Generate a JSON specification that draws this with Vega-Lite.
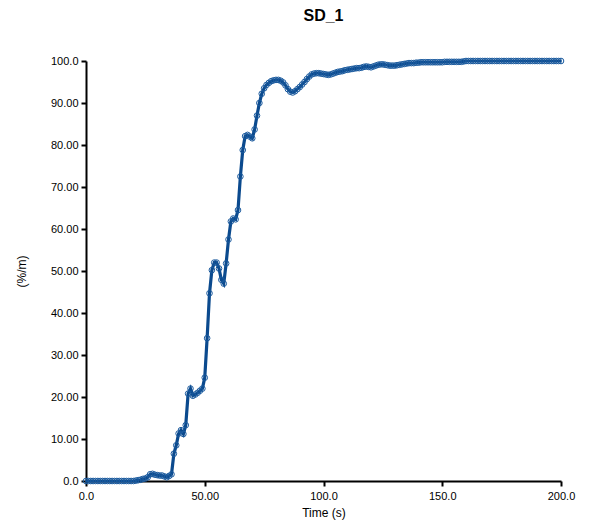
{
  "$schema": "https://vega.github.io/schema/vega-lite/v6.json",
  "autosize": {"type": "none"},
  "width": 475,
  "height": 420,
  "padding": {"left": 86, "top": 61, "right": 39, "bottom": 46},
  "background": "white",
  "title": {"text": "SD_1", "fontSize": 16, "fontWeight": "bold", "font": "Liberation Sans", "color": "black", "offset": 31, "anchor": "middle"},
  "config": {
    "view": {"stroke": null},
    "axis": {"grid": false, "domainColor": "black", "domainWidth": 2, "tickColor": "black", "tickWidth": 2, "tickSize": 5, "labelFlush": false,
      "labelFont": "Liberation Sans", "labelFontSize": 11, "labelColor": "black", "titleFont": "Liberation Sans", "titleFontSize": 12, "titleFontWeight": "normal", "titleColor": "black"}
  },
  "data": {"values": [
    {"t":0,"v":0},{"t":1,"v":0},{"t":2,"v":0},{"t":3,"v":0},{"t":4,"v":0},{"t":5,"v":0},{"t":6,"v":0},{"t":7,"v":0},{"t":8,"v":0},{"t":9,"v":0},
    {"t":10,"v":0},{"t":11,"v":0},{"t":12,"v":0},{"t":13,"v":0},{"t":14,"v":0},{"t":15,"v":0},{"t":16,"v":0},{"t":17,"v":0},{"t":18,"v":0},{"t":19,"v":0},
    {"t":20,"v":0},{"t":21,"v":0.1},{"t":22,"v":0.2},{"t":23,"v":0.3},{"t":24,"v":0.5},{"t":25,"v":0.6},{"t":26,"v":0.9},{"t":27,"v":1.6},{"t":28,"v":1.7},{"t":29,"v":1.5},
    {"t":30,"v":1.4},{"t":31,"v":1.3},{"t":32,"v":1.3},{"t":33,"v":1.1},{"t":34,"v":0.9},{"t":35,"v":1.2},{"t":36,"v":1.6},{"t":37,"v":6.5},{"t":38,"v":8.5},{"t":39,"v":11.3},
    {"t":40,"v":12.1},{"t":41,"v":11.2},{"t":42,"v":13.3},{"t":43,"v":20.8},{"t":44,"v":22.0},{"t":45,"v":20.3},{"t":46,"v":20.6},{"t":47,"v":21.0},{"t":48,"v":21.5},{"t":49,"v":22.0},
    {"t":50,"v":24.6},{"t":51,"v":34.0},{"t":52,"v":44.7},{"t":53,"v":50.2},{"t":54,"v":52.0},{"t":55,"v":52.0},{"t":56,"v":50.6},{"t":57,"v":47.9},{"t":58,"v":47.0},{"t":59,"v":51.8},
    {"t":60,"v":57.5},{"t":61,"v":61.8},{"t":62,"v":62.5},{"t":63,"v":62.3},{"t":64,"v":64.5},{"t":65,"v":72.5},{"t":66,"v":78.8},{"t":67,"v":82.1},{"t":68,"v":82.4},{"t":69,"v":82.0},
    {"t":70,"v":81.6},{"t":71,"v":83.7},{"t":72,"v":87.0},{"t":73,"v":90.0},{"t":74,"v":92.2},{"t":75,"v":93.5},{"t":76,"v":94.3},{"t":77,"v":94.8},{"t":78,"v":95.2},{"t":79,"v":95.4},
    {"t":80,"v":95.5},{"t":81,"v":95.5},{"t":82,"v":95.3},{"t":83,"v":94.9},{"t":84,"v":94.2},{"t":85,"v":93.3},{"t":86,"v":92.7},{"t":87,"v":92.5},{"t":88,"v":92.8},{"t":89,"v":93.3},
    {"t":90,"v":93.8},{"t":91,"v":94.4},{"t":92,"v":95.0},{"t":93,"v":95.7},{"t":94,"v":96.3},{"t":95,"v":96.8},{"t":96,"v":97.0},{"t":97,"v":97.1},{"t":98,"v":97.1},{"t":99,"v":97.0},
    {"t":100,"v":96.9},{"t":101,"v":96.8},{"t":102,"v":96.7},{"t":103,"v":96.8},{"t":104,"v":97.0},{"t":105,"v":97.2},{"t":106,"v":97.4},{"t":107,"v":97.5},{"t":108,"v":97.6},{"t":109,"v":97.8},
    {"t":110,"v":97.9},{"t":111,"v":98.0},{"t":112,"v":98.1},{"t":113,"v":98.2},{"t":114,"v":98.3},{"t":115,"v":98.3},{"t":116,"v":98.4},{"t":117,"v":98.6},{"t":118,"v":98.7},{"t":119,"v":98.6},
    {"t":120,"v":98.5},{"t":121,"v":98.7},{"t":122,"v":98.9},{"t":123,"v":99.1},{"t":124,"v":99.2},{"t":125,"v":99.2},{"t":126,"v":99.1},{"t":127,"v":99.0},{"t":128,"v":98.9},{"t":129,"v":98.9},
    {"t":130,"v":98.9},{"t":131,"v":99.0},{"t":132,"v":99.1},{"t":133,"v":99.2},{"t":134,"v":99.3},{"t":135,"v":99.4},{"t":136,"v":99.5},{"t":137,"v":99.5},{"t":138,"v":99.5},{"t":139,"v":99.6},
    {"t":140,"v":99.6},{"t":141,"v":99.7},{"t":142,"v":99.7},{"t":143,"v":99.7},{"t":144,"v":99.7},{"t":145,"v":99.7},{"t":146,"v":99.7},{"t":147,"v":99.7},{"t":148,"v":99.7},{"t":149,"v":99.7},
    {"t":150,"v":99.7},{"t":151,"v":99.8},{"t":152,"v":99.8},{"t":153,"v":99.8},{"t":154,"v":99.8},{"t":155,"v":99.8},{"t":156,"v":99.8},{"t":157,"v":99.8},{"t":158,"v":99.8},{"t":159,"v":99.9},
    {"t":160,"v":100},{"t":161,"v":100},{"t":162,"v":100},{"t":163,"v":100},{"t":164,"v":100},{"t":165,"v":100},{"t":166,"v":100},{"t":167,"v":100},{"t":168,"v":100},{"t":169,"v":100},
    {"t":170,"v":100},{"t":171,"v":100},{"t":172,"v":100},{"t":173,"v":100},{"t":174,"v":100},{"t":175,"v":100},{"t":176,"v":100},{"t":177,"v":100},{"t":178,"v":100},{"t":179,"v":100},
    {"t":180,"v":100},{"t":181,"v":100},{"t":182,"v":100},{"t":183,"v":100},{"t":184,"v":100},{"t":185,"v":100},{"t":186,"v":100},{"t":187,"v":100},{"t":188,"v":100},{"t":189,"v":100},
    {"t":190,"v":100},{"t":191,"v":100},{"t":192,"v":100},{"t":193,"v":100},{"t":194,"v":100},{"t":195,"v":100},{"t":196,"v":100},{"t":197,"v":100},{"t":198,"v":100},{"t":199,"v":100},
    {"t":200,"v":100}
  ]},
  "encoding": {
    "x": {"field": "t", "type": "quantitative", "title": "Time (s)", "scale": {"domain": [0, 200], "nice": false, "zero": false},
      "axis": {"values": [0, 50, 100, 150, 200], "labelExpr": "datum.value == 0 ? '0.0' : datum.value < 100 ? format(datum.value, '.2f') : format(datum.value, '.1f')", "titlePadding": 6, "labelPadding": 4}},
    "y": {"field": "v", "type": "quantitative", "title": "(%/m)", "scale": {"domain": [0, 100], "nice": false},
      "axis": {"values": [0, 10, 20, 30, 40, 50, 60, 70, 80, 90, 100], "labelExpr": "datum.value == 0 ? '0.0' : datum.value < 100 ? format(datum.value, '.2f') : format(datum.value, '.1f')", "titlePadding": 22, "labelPadding": 3}}
  },
  "layer": [
    {"mark": {"type": "line", "color": "#0b4a8e", "strokeWidth": 3.2}},
    {"mark": {"type": "point", "shape": "circle", "filled": false, "color": "#1a5a9e", "strokeWidth": 1, "size": 32, "opacity": 1}}
  ]
}
